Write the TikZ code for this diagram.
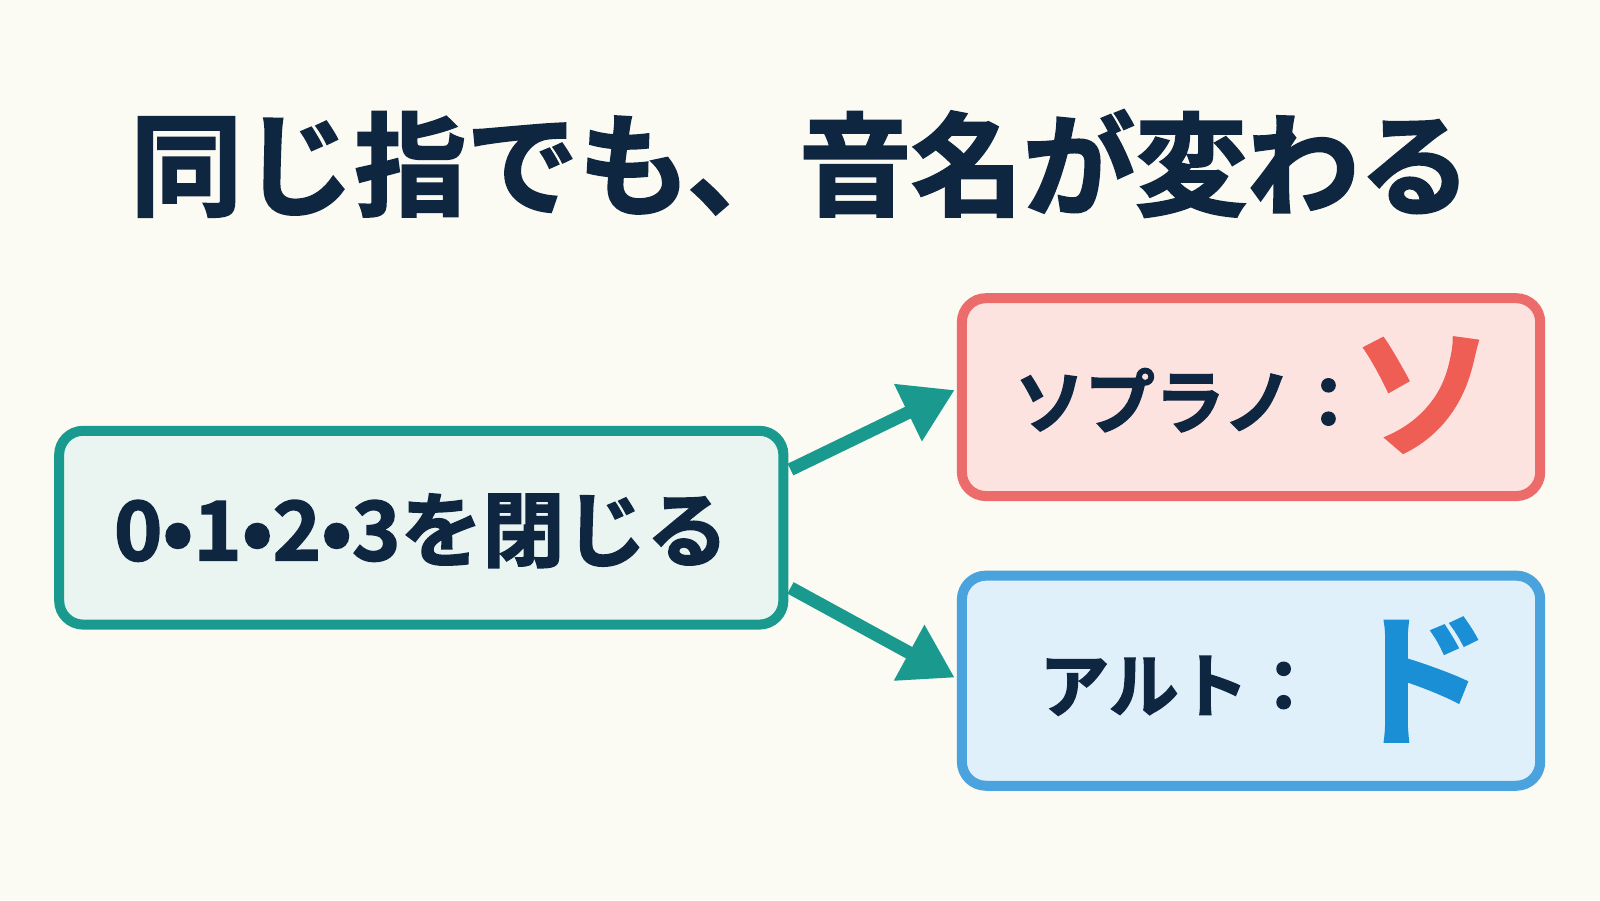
\documentclass[tikz,border=0pt]{standalone}
\usepackage{fontspec}
\newfontfamily\cjk[FakeBold=2]{Noto Sans CJK JP Bold}
\usetikzlibrary{arrows.meta}
\definecolor{bg}{HTML}{FBFAF3}
\definecolor{ink}{HTML}{0F2641}
\definecolor{teal}{HTML}{1A9A8E}
\definecolor{tealfill}{HTML}{EAF5F2}
\definecolor{redb}{HTML}{EC6B6B}
\definecolor{redfill}{HTML}{FDE3E0}
\definecolor{redt}{HTML}{EE5E55}
\definecolor{blueb}{HTML}{4AA3DC}
\definecolor{bluefill}{HTML}{DFF0FB}
\definecolor{bluet}{HTML}{1A8FD6}
\begin{document}
\begin{tikzpicture}[x=0.51pt,y=0.51pt,
  box/.style={rounded corners=12pt,line width=5pt},
  arr/.style={draw=teal,line width=6.5pt,-{Triangle[length=26pt,width=30pt]}},
  txt/.style={font=\cjk,text=ink}]
\useasboundingbox (0,0) rectangle (1568.6,882.35);
\fill[bg] (0,0) rectangle (1568.6,882.35);
\node[txt,font=\cjk\fontsize{56}{60}\selectfont] (title) at (785,722) {同じ指でも、音名が変わる};
\draw[box,draw=teal,fill=tealfill] (58,270) rectangle (768,460);
\node[txt,font=\cjk\fontsize{41}{44}\selectfont] (left) at (413,362) {0•1•2•3を閉じる};
\draw[box,draw=redb,fill=redfill] (943,396) rectangle (1510,590);
\node[txt,font=\cjk\fontsize{35}{38}\selectfont,anchor=west] (sop) at (988,490) {ソプラノ：};
\node[font=\cjk\fontsize{72}{74}\selectfont,text=redt] (so) at (1395,495) {ソ};
\draw[box,draw=blueb,fill=bluefill] (943,112) rectangle (1510,318);
\node[txt,font=\cjk\fontsize{35}{38}\selectfont,anchor=west] (alt) at (1012,210) {アルト：};
\node[font=\cjk\fontsize{72}{74}\selectfont,text=bluet] (do) at (1390,216) {ド};
\coordinate (s1) at (775,422);
\coordinate (s2) at (775,306);
\coordinate (e1) at (936,500);
\coordinate (e2) at (936,218);
\draw[arr] (s1) -- (e1);
\draw[arr] (s2) -- (e2);
\end{tikzpicture}
\end{document}
